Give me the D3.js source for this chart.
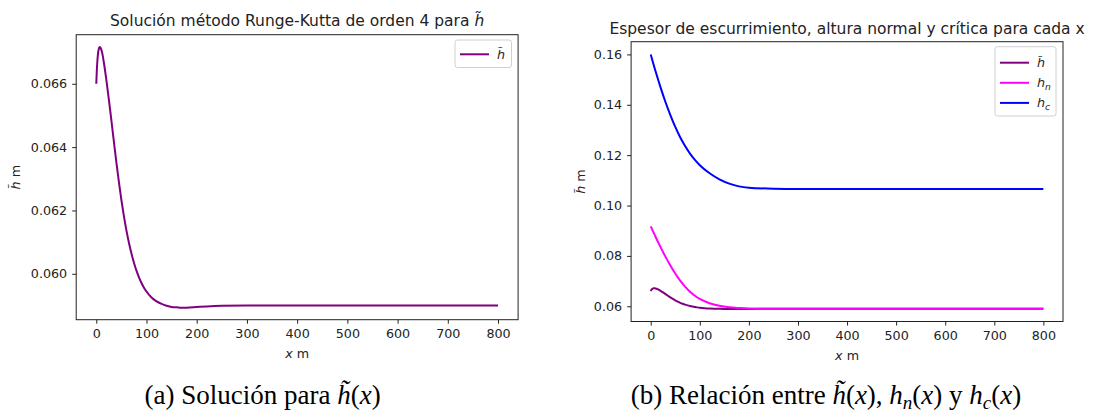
<!DOCTYPE html>
<html>
<head>
<meta charset="utf-8">
<script src="https://cdn.jsdelivr.net/npm/d3@7"></script>
<style>
  html, body { margin: 0; padding: 0; background: #fff; }
  svg { display: block; }
</style>
</head>
<body>
<svg id="chart" width="1093" height="413"></svg>
<script>
// ---------- data ----------
const xTicks = [0, 100, 200, 300, 400, 500, 600, 700, 800];
const yTicksA = [0.060, 0.062, 0.064, 0.066];
const yTicksB = [0.06, 0.08, 0.10, 0.12, 0.14, 0.16];

// h~ (Runge-Kutta solution)
const xTilde = [0, 1, 2, 3, 4, 5, 6, 7, 8, 10, 12, 15, 20, 25, 30, 35, 40, 45, 50, 55, 60,
                65, 70, 75, 80, 85, 90, 95, 100, 110, 120, 130, 140, 150, 160, 170, 180, 200,
                220, 250, 300, 400, 500, 600, 700, 800];
const hTilde = [0.06600, 0.06640, 0.06668, 0.06688, 0.06702, 0.06710, 0.06715, 0.06716, 0.06715,
                0.06708, 0.06696, 0.06668, 0.06613, 0.06551, 0.06485, 0.06418, 0.06352, 0.06290,
                0.06233, 0.06182, 0.06137, 0.06098, 0.06064, 0.06035, 0.06010, 0.05989, 0.05971,
                0.05956, 0.05944, 0.05925, 0.05913, 0.05905, 0.05899, 0.05895, 0.05894, 0.05893,
                0.05893, 0.05895, 0.05897, 0.05899, 0.05900, 0.05900, 0.05900, 0.05900, 0.05900,
                0.05900];

// normal and critical depth
const xHn = [0, 10, 20, 30, 40, 50, 60, 70, 80, 90, 100, 120, 140, 160, 180, 200, 250, 300,
             400, 500, 600, 700, 800];
const hN = [0.0917, 0.0875, 0.0835, 0.0797, 0.0762, 0.0730, 0.0702, 0.0678, 0.0658, 0.0642,
            0.0629, 0.0612, 0.0602, 0.0596, 0.0593, 0.0591, 0.0590, 0.0590,
            0.0590, 0.0590, 0.0590, 0.0590, 0.0590];
const hC = [0.1600, 0.1532, 0.1469, 0.1411, 0.1359, 0.1312, 0.1271, 0.1236, 0.1206, 0.1181,
            0.1160, 0.1128, 0.1104, 0.1087, 0.1076, 0.1071, 0.1067, 0.1066,
            0.1066, 0.1066, 0.1066, 0.1066, 0.1066];

const titleA = "Solución método Runge-Kutta de orden 4 para ";
const titleB = "Espesor de escurrimiento, altura normal y crítica para cada x";

// ---------- drawing ----------
const svg = d3.select("#chart");
const SANS = "DejaVu Sans, sans-serif";
const SERIF = "Liberation Serif, Times New Roman, serif";
const TICK_FS = 12.7;
const TITLE_FS = 15.5;

function panel(opt) {
  const g = svg.append("g");
  const x = d3.scaleLinear().domain([-40, 840]).range([opt.left, opt.right]);
  const y = d3.scaleLinear().domain(opt.yDomain).range([opt.bottom, opt.top]);

  // lines
  const line = d3.line().x(d => x(d[0])).y(d => y(d[1])).curve(d3.curveMonotoneX);
  opt.series.forEach(s => {
    g.append("path")
      .datum(s.xs.map((v, i) => [v, s.ys[i]]))
      .attr("fill", "none")
      .attr("stroke", s.color)
      .attr("stroke-width", 2)
      .attr("stroke-linejoin", "round")
      .attr("d", line);
  });

  // axes
  const xa = g.append("g").attr("transform", `translate(0,${opt.bottom})`)
    .call(d3.axisBottom(x).tickValues(xTicks).tickSize(4).tickPadding(5).tickFormat(d3.format("d")));
  const ya = g.append("g").attr("transform", `translate(${opt.left},0)`)
    .call(d3.axisLeft(y).tickValues(opt.yTicks).tickSize(4).tickPadding(5).tickFormat(d3.format(opt.yFmt)));
  [xa, ya].forEach(a => {
    a.select(".domain").remove();
    a.selectAll(".tick line").attr("stroke", "#222").attr("stroke-width", 1);
    a.selectAll(".tick text").attr("font-size", TICK_FS).attr("fill", "#222").attr("font-family", SANS);
  });

  // frame
  g.append("rect")
    .attr("x", opt.left).attr("y", opt.top)
    .attr("width", opt.right - opt.left).attr("height", opt.bottom - opt.top)
    .attr("fill", "none").attr("stroke", "#222").attr("stroke-width", 1);

  // title
  const t = g.append("text")
    .attr("x", (opt.left + opt.right) / 2).attr("y", opt.titleY)
    .attr("text-anchor", "middle").attr("font-family", SANS)
    .attr("font-size", TITLE_FS).attr("fill", "#222");
  t.append("tspan").text(opt.title);
  if (opt.titleTilde) t.append("tspan").attr("font-style", "italic").text("h\u0303");

  // x label
  const xl = g.append("text")
    .attr("x", (opt.left + opt.right) / 2).attr("y", opt.bottom + 38)
    .attr("text-anchor", "middle").attr("font-family", SANS)
    .attr("font-size", TICK_FS).attr("fill", "#222");
  xl.append("tspan").attr("font-style", "italic").text("x");
  xl.append("tspan").text(" m");

  // y label
  const cy = (opt.top + opt.bottom) / 2;
  const yl = g.append("text")
    .attr("transform", `translate(${opt.yLabelX},${cy}) rotate(-90)`)
    .attr("text-anchor", "middle").attr("font-family", SANS)
    .attr("font-size", TICK_FS).attr("fill", "#222");
  yl.append("tspan").attr("font-style", "italic").text("h\u0303");
  yl.append("tspan").text(" m");

  // legend
  const L = opt.legend;
  g.append("rect")
    .attr("x", L.x).attr("y", L.y).attr("width", L.w).attr("height", L.h)
    .attr("rx", 2.5).attr("fill", "#fff").attr("fill-opacity", 0.8)
    .attr("stroke", "#d0d0d0").attr("stroke-width", 1);
  L.items.forEach((it, i) => {
    const ly = L.y + L.first + i * L.step;
    g.append("line")
      .attr("x1", L.x + 5).attr("x2", L.x + 34)
      .attr("y1", ly).attr("y2", ly)
      .attr("stroke", it.color).attr("stroke-width", 2);
    const tx = g.append("text")
      .attr("x", L.x + 42).attr("y", ly + 4.5)
      .attr("font-family", SANS).attr("font-size", TICK_FS).attr("fill", "#222");
    if (it.sub) {
      tx.append("tspan").attr("font-style", "italic").text("h");
      tx.append("tspan").attr("font-style", "italic").attr("font-size", TICK_FS * 0.72)
        .attr("dy", 2.5).text(it.sub);
    } else {
      tx.append("tspan").attr("font-style", "italic").text("h\u0303");
    }
  });
}

panel({
  left: 76.2, right: 518.1, top: 34.7, bottom: 319.7,
  yDomain: [0.05855, 0.06755], yTicks: yTicksA, yFmt: ".3f",
  series: [{ xs: xTilde, ys: hTilde, color: "#800080" }],
  title: titleA, titleTilde: true, titleY: 26,
  yLabelX: 19.5,
  legend: { x: 455, y: 40, w: 56.5, h: 27.5, first: 14.3, step: 20,
            items: [{ color: "#800080" }] }
});

panel({
  left: 631.1, right: 1063, top: 41.7, bottom: 321.5,
  yDomain: [0.05395, 0.16505], yTicks: yTicksB, yFmt: ".2f",
  series: [
    { xs: xTilde, ys: hTilde, color: "#800080" },
    { xs: xHn, ys: hN, color: "#ff00ff" },
    { xs: xHn, ys: hC, color: "#0000ff" }
  ],
  title: titleB, titleTilde: false, titleY: 34.3,
  yLabelX: 585,
  legend: { x: 995, y: 46.7, w: 61, h: 69.3, first: 16, step: 20.1,
            items: [{ color: "#800080" }, { color: "#ff00ff", sub: "n" }, { color: "#0000ff", sub: "c" }] }
});

// captions (serif, LaTeX-like)
function caption(cx, parts) {
  const t = svg.append("text").attr("x", cx).attr("y", 404)
    .attr("text-anchor", "middle").attr("font-family", SERIF)
    .attr("font-size", 27).attr("fill", "#000");
  parts.forEach(p => {
    const s = t.append("tspan").text(p.t);
    if (p.i) s.attr("font-style", "italic");
    if (p.sub) s.attr("font-size", 19).attr("dy", 5);
    if (p.up) s.attr("dy", -5);
  });
}
caption(262.6, [
  { t: "(a) Solución para " }, { t: "h\u0303", i: true }, { t: "(" }, { t: "x", i: true }, { t: ")" }
]);
caption(826, [
  { t: "(b) Relación entre " }, { t: "h\u0303", i: true }, { t: "(" }, { t: "x", i: true }, { t: "), " },
  { t: "h", i: true }, { t: "n", i: true, sub: true }, { t: "(", up: true }, { t: "x", i: true }, { t: ")" },
  { t: " y " }, { t: "h", i: true }, { t: "c", i: true, sub: true }, { t: "(", up: true }, { t: "x", i: true }, { t: ")" }
]);
</script>
</body>
</html>
